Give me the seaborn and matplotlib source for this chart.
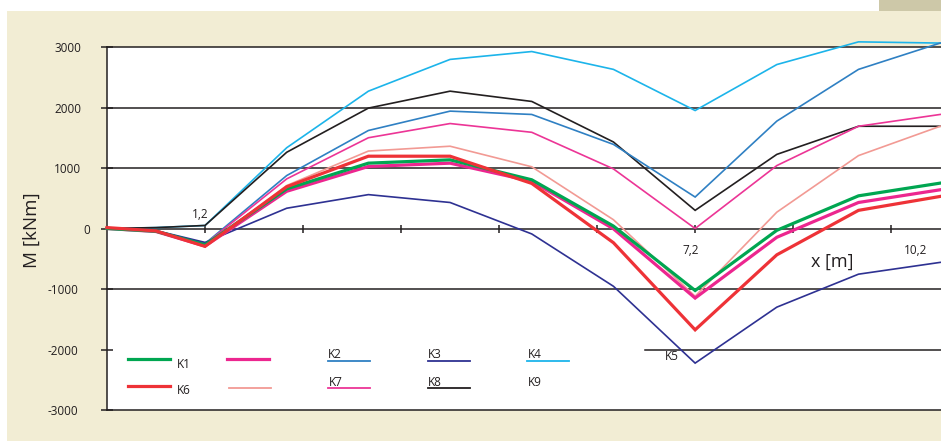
import matplotlib
matplotlib.use("Agg")
import matplotlib.pyplot as plt
import seaborn as sns
from matplotlib.lines import Line2D
from matplotlib.patches import Rectangle
from matplotlib.transforms import blended_transform_factory

# Bending moment M along the beam, one series per load case
x_m = [0, 0.6, 1.2, 2.2, 3.2, 4.2, 5.2, 6.2, 7.2, 8.2, 9.2, 10.2]
k1 = [0, -45, -270, 655, 1080, 1135, 805, 40, -1025, -30, 540, 750]
k2 = [0, -40, -250, 875, 1620, 1940, 1885, 1390, 520, 1775, 2630, 3065]
k3 = [0, -35, -230, 335, 560, 430, -90, -955, -2225, -1300, -755, -560]
k4 = [0, 15, 50, 1335, 2270, 2795, 2925, 2630, 1950, 2710, 3085, 3065]
k5 = [0, -50, -290, 615, 1025, 1080, 780, -5, -1150, -145, 430, 640]
k6 = [15, -40, -295, 690, 1195, 1195, 745, -235, -1675, -435, 300, 530]
k7 = [0, -40, -260, 820, 1500, 1735, 1590, 985, 0, 1040, 1690, 1885]
k8 = [0, 15, 50, 1260, 1990, 2270, 2100, 1430, 300, 1225, 1690, 1690]
k9 = [0, -45, -300, 710, 1280, 1360, 1020, 145, -1120, 270, 1205, 1690]

y_ticks = [3000, 2000, 1000, 0, -1000, -2000, -3000]
x_tick_step = 1.2
x_labels = ["1,2", "7,2", "10,2"]
legend_labels = ["K1", "K2", "K3", "K4", "K5", "K6", "K7", "K8", "K9"]

INK = "#231f20"
GREEN = "#00a651"
MAGENTA = "#ec268f"
STEEL = "#2f80c3"
NAVY = "#2e3192"
CYAN = "#1cb4ea"
RED = "#ee3237"
SALMON = "#f29a94"
PINK = "#ec3596"
BEIGE = "#f2edd4"
TAN = "#cdc8a8"

plt.rcParams["font.family"] = ["Open Sans", "DejaVu Sans"]

W, H = 941, 441
fig = plt.figure(figsize=(W / 100, H / 100), dpi=100, facecolor="white")


def fx(px):
    return px / W


def fy(py):
    return 1 - py / H


# page background panels
fig.patches.append(Rectangle((fx(7), 0), fx(941) - fx(7), fy(11), transform=fig.transFigure,
                             facecolor=BEIGE, edgecolor="none", zorder=-2))
fig.patches.append(Rectangle((fx(879), fy(11)), fx(941) - fx(879), 1 - fy(11),
                             transform=fig.transFigure, facecolor=TAN, edgecolor="none", zorder=-2))

ax = fig.add_axes([fx(107), fy(410), fx(941) - fx(107), fy(47) - fy(410)])
ax.set_zorder(1)
ax.set_facecolor("white")
ax.set_xlim(0, 10.21)
ax.set_ylim(-3000, 3000)

ax.spines["right"].set_visible(False)
ax.spines["top"].set_visible(False)
ax.spines["left"].set_color(INK)
ax.spines["left"].set_linewidth(1.1)
ax.spines["bottom"].set_position(("data", 0))
ax.spines["bottom"].set_color(INK)
ax.spines["bottom"].set_linewidth(1.1)

ax.set_yticks(y_ticks)
ax.set_xticks([x_tick_step * i for i in range(1, 9)])
ax.tick_params(axis="y", direction="inout", length=8.6, width=1.1, color=INK, labelleft=False)
ax.tick_params(axis="x", direction="inout", length=6, width=1.1, color=INK, labelbottom=False)

# horizontal grid, frame top and bottom
for v in [3000, 2000, 1000, -1000, -3000]:
    ax.axhline(v, color=INK, lw=1.1, zorder=1, clip_on=False)
ax.axhline(-2000, xmin=(645 - 107) / (941 - 107), color=INK, lw=1.1, zorder=1, clip_on=False)

thin, thick = 1.2, 2.3
series = [
    (k4, CYAN, thin), (k8, INK, thin), (k2, STEEL, thin), (k7, PINK, thin),
    (k9, SALMON, thin), (k3, NAVY, thin), (k5, MAGENTA, thick),
    (k1, GREEN, thick), (k6, RED, thick),
]
for vals, color, lw in series:
    sns.lineplot(x=x_m, y=vals, ax=ax, color=color, linewidth=lw, legend=False,
                 clip_on=False, solid_joinstyle="miter", zorder=3)

# y tick labels
ylab_right = {3000: 81, 2000: 81, 1000: 81, 0: 90, -1000: 78, -2000: 78, -3000: 78}
ytr = blended_transform_factory(fig.transFigure, ax.transData)
for v in y_ticks:
    ax.text(fx(ylab_right[v]), v - 30, str(v), transform=ytr, ha="right", va="center",
            fontsize=8.5, color=INK, clip_on=False)

# x tick labels
for lab, (px, py) in zip(x_labels, [(200, 215), (691, 251), (916, 251)]):
    fig.text(fx(px), fy(py), lab, ha="center", va="center", fontsize=8.5, color=INK, zorder=6)

fig.text(fx(832), fy(262), "x [m]", ha="center", va="center", fontsize=13, color=INK, zorder=6)
fig.text(fx(32), fy(230), "M [kNm]", ha="center", va="center", rotation=90,
         fontsize=13.5, color=INK, zorder=6)

# legend drawn in the lower-left of the plot
legend_lines = [
    (128, 170, 359, GREEN, 2.3), (227, 269, 359, MAGENTA, 2.3),
    (328, 370, 361, STEEL, 1.3), (428, 470, 361, NAVY, 1.3), (527, 569, 361, CYAN, 1.3),
    (128, 170, 386, RED, 2.3), (229, 271, 388, SALMON, 1.3),
    (328, 370, 388, PINK, 1.3), (428, 470, 388, INK, 1.3),
]
for x0, x1, y, c, lw in legend_lines:
    fig.add_artist(Line2D([fx(x0), fx(x1)], [fy(y), fy(y)], color=c, lw=lw,
                          transform=fig.transFigure, zorder=5))

legend_pos = [(177, 364), (328, 355), (428, 355), (528, 355), (665, 357),
              (177, 391), (329, 383), (428, 383), (528, 383)]
for lab, (px, py) in zip(legend_labels, legend_pos):
    fig.text(fx(px), fy(py), lab, ha="left", va="center", fontsize=8.5, color=INK, zorder=6)

fig.savefig("out.png", dpi=100, facecolor="white")
